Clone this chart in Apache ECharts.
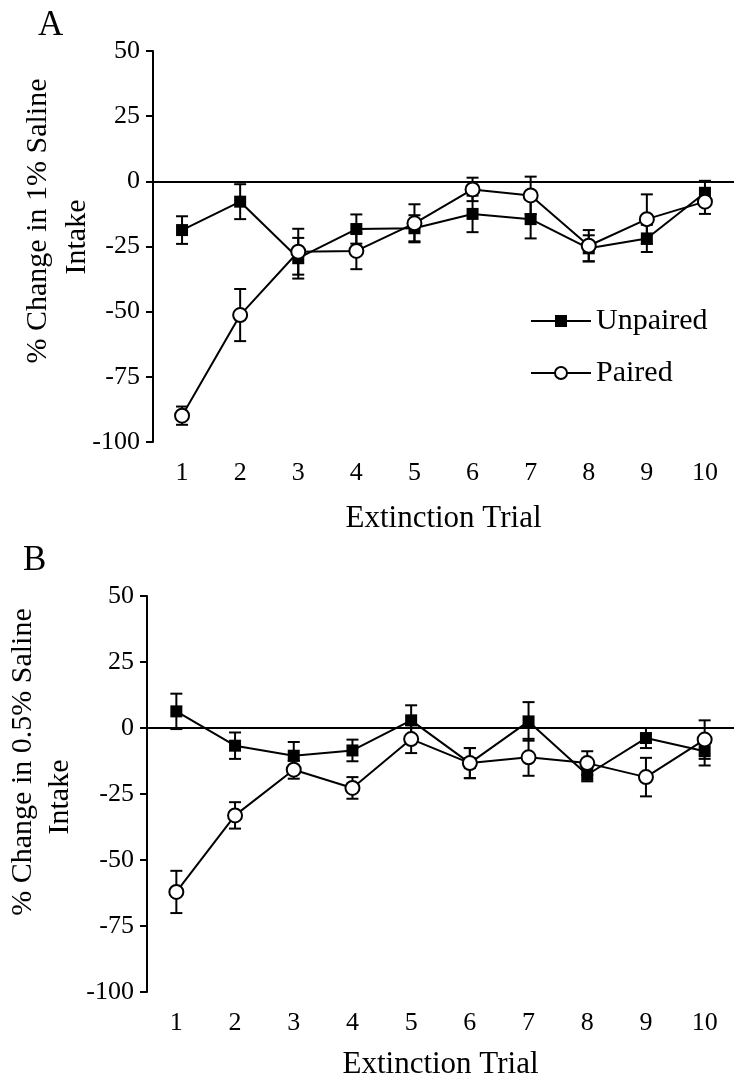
<!DOCTYPE html>
<html>
<head>
<meta charset="utf-8">
<script src="https://cdn.jsdelivr.net/npm/echarts@6/dist/echarts.min.js"></script>
<style>
html,body{margin:0;padding:0;background:#fff;}
#chart{width:734px;height:1081px;}
</style>
</head>
<body>
<div id="chart"></div>
<script>
// ---- data ----
const trials = ['1','2','3','4','5','6','7','8','9','10'];
const yTicks = [50, 25, 0, -25, -50, -75, -100];

// Panel A: 1% saline
const unpairedA    = [-18.7, -7.8, -29.5, -18.3, -18.0, -12.5, -14.5, -25.7, -21.9, -4.4];
const unpairedAErr = [5.3, 6.7, 7.8, 5.6, 5.0, 7.0, 7.4, 5.0, 5.2, 4.6];
const pairedA      = [-89.9, -51.3, -27.0, -26.7, -16.1, -3.1, -5.4, -24.7, -14.5, -7.8];
const pairedAErr   = [3.5, 10.0, 8.8, 7.0, 7.3, 4.5, 7.2, 6.0, 9.5, 4.7];

// Panel B: 0.5% saline
const unpairedB    = [6.3, -6.7, -10.5, -8.5, 2.9, -13.3, 2.5, -17.7, -3.8, -8.8];
const unpairedBErr = [6.7, 5.0, 5.2, 4.1, 5.7, 5.7, 7.3, 2.5, 3.8, 5.4];
const pairedB      = [-62.1, -33.1, -15.8, -22.7, -4.2, -13.3, -11.1, -13.3, -18.6, -4.4];
const pairedBErr   = [8.0, 5.0, 3.4, 4.1, 5.3, 5.7, 7.0, 4.5, 7.3, 7.3];

// ---- chart ----
const FONT = 'Liberation Serif';
const chart = echarts.init(document.getElementById('chart'), null, {renderer: 'canvas'});

function errData(mean, err) {
  return mean.map((m, i) => [i, m - err[i], m + err[i]]);
}
function errRender(params, api) {
  const x = api.value(0);
  const lo = api.coord([x, api.value(1)]);
  const hi = api.coord([x, api.value(2)]);
  const w = 6;
  const st = {stroke: '#000', lineWidth: 2};
  return {
    type: 'group',
    children: [
      {type: 'line', shape: {x1: lo[0], y1: lo[1], x2: hi[0], y2: hi[1]}, style: st},
      {type: 'line', shape: {x1: lo[0] - w, y1: lo[1], x2: lo[0] + w, y2: lo[1]}, style: st},
      {type: 'line', shape: {x1: hi[0] - w, y1: hi[1], x2: hi[0] + w, y2: hi[1]}, style: st}
    ]
  };
}

function xAxisCfg(gridIndex, nameGap) {
  return {
    type: 'category', gridIndex, data: trials, boundaryGap: true,
    name: 'Extinction Trial', nameLocation: 'middle', nameGap,
    nameTextStyle: {fontFamily: FONT, fontSize: 31, color: '#000'},
    axisLine: {lineStyle: {color: '#000', width: 2}},
    axisTick: {alignWithLabel: true, length: 10, lineStyle: {color: '#000', width: 2}},
    axisLabel: {fontFamily: FONT, fontSize: 26, color: '#000', margin: 18},
    splitLine: {show: false}
  };
}
function yAxisCfg(gridIndex) {
  return {
    type: 'value', gridIndex,
    min: yTicks[yTicks.length - 1], max: yTicks[0], interval: 25,
    axisLine: {show: true, lineStyle: {color: '#000', width: 2}},
    axisTick: {show: true, length: 7, lineStyle: {color: '#000', width: 2}},
    axisLabel: {fontFamily: FONT, fontSize: 26, color: '#000', margin: 13},
    splitLine: {show: false}
  };
}
const zeroLine = {
  silent: true, symbol: ['none', 'none'], animation: false,
  label: {show: false},
  lineStyle: {color: '#000', width: 2, type: 'solid'},
  data: [{yAxis: 0}]
};
function unpairedSeries(idx, data, withZero) {
  const s = {
    name: 'Unpaired', type: 'line', xAxisIndex: idx, yAxisIndex: idx, data,
    symbol: 'rect', symbolSize: 12, z: 3,
    itemStyle: {color: '#000'},
    lineStyle: {color: '#000', width: 2}
  };
  if (withZero) s.markLine = zeroLine;
  return s;
}
function pairedSeries(idx, data) {
  return {
    name: 'Paired', type: 'line', xAxisIndex: idx, yAxisIndex: idx, data,
    symbol: 'circle', symbolSize: 14, z: 4,
    itemStyle: {color: '#fff', borderColor: '#000', borderWidth: 2},
    lineStyle: {color: '#000', width: 2}
  };
}
function errSeries(idx, mean, err) {
  return {
    type: 'custom', xAxisIndex: idx, yAxisIndex: idx, z: 2,
    renderItem: errRender, data: errData(mean, err), silent: true
  };
}

const option = {
  animation: false,
  backgroundColor: '#fff',
  grid: [
    {left: 153, right: 0, top: 51, height: 391},
    {left: 147, right: 0, top: 596, height: 398}
  ],
  xAxis: [xAxisCfg(0, 61), xAxisCfg(1, 57)],
  yAxis: [yAxisCfg(0), yAxisCfg(1)],
  legend: {
    data: ['Unpaired', 'Paired'],
    orient: 'vertical', left: 525, top: 301,
    itemWidth: 60, itemHeight: 15, itemGap: 22,
    textStyle: {fontFamily: FONT, fontSize: 30, color: '#000', lineHeight: 30},
    selectedMode: false
  },
  graphic: [
    {type: 'text', left: 38, top: 8, style: {text: 'A', fontFamily: FONT, fontSize: 35, fill: '#000'}},
    {type: 'text', left: 23, top: 543, style: {text: 'B', fontFamily: FONT, fontSize: 35, fill: '#000'}},
    {type: 'text', x: 38, y: 221, rotation: Math.PI / 2,
     style: {text: '% Change in 1% Saline', fontFamily: FONT, fontSize: 30, fill: '#000', align: 'center', verticalAlign: 'middle'}},
    {type: 'text', x: 77, y: 237, rotation: Math.PI / 2,
     style: {text: 'Intake', fontFamily: FONT, fontSize: 30, fill: '#000', align: 'center', verticalAlign: 'middle'}},
    {type: 'text', x: 23, y: 762, rotation: Math.PI / 2,
     style: {text: '% Change in 0.5% Saline', fontFamily: FONT, fontSize: 30, fill: '#000', align: 'center', verticalAlign: 'middle'}},
    {type: 'text', x: 60, y: 797, rotation: Math.PI / 2,
     style: {text: 'Intake', fontFamily: FONT, fontSize: 30, fill: '#000', align: 'center', verticalAlign: 'middle'}}
  ],
  series: [
    errSeries(0, unpairedA, unpairedAErr),
    errSeries(0, pairedA, pairedAErr),
    unpairedSeries(0, unpairedA, true),
    pairedSeries(0, pairedA),
    errSeries(1, unpairedB, unpairedBErr),
    errSeries(1, pairedB, pairedBErr),
    unpairedSeries(1, unpairedB, true),
    pairedSeries(1, pairedB)
  ]
};
chart.setOption(option);
</script>
</body>
</html>
